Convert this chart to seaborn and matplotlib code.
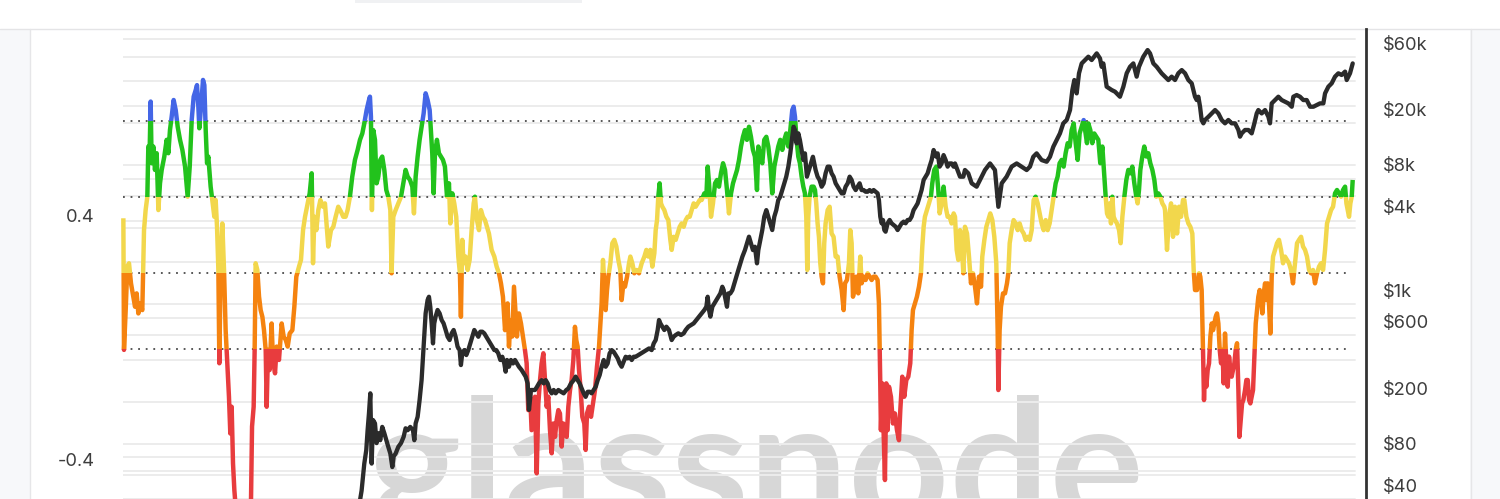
import matplotlib.pyplot as plt
import seaborn as sns
from matplotlib.patches import Rectangle
from matplotlib.lines import Line2D

sns.set_theme(style="white")
plt.rcParams["font.family"] = ["Inter", "DejaVu Sans"]

# indicator (left axis), time in decimal years
nupl_year = [
    2010.504, 2010.511, 2010.530, 2010.548, 2010.567, 2010.589, 2010.615, 2010.634, 2010.652, 2010.671,
    2010.689, 2010.715, 2010.734, 2010.752, 2010.771, 2010.782, 2010.797, 2010.808, 2010.819, 2010.838,
    2010.856, 2010.875, 2010.894, 2010.912, 2010.931, 2010.960, 2010.986, 2011.005, 2011.023, 2011.042,
    2011.064, 2011.087, 2011.109, 2011.135, 2011.161, 2011.191, 2011.220, 2011.243, 2011.265, 2011.287,
    2011.310, 2011.324, 2011.339, 2011.350, 2011.369, 2011.391, 2011.406, 2011.421, 2011.436, 2011.450,
    2011.476, 2011.499, 2011.517, 2011.532, 2011.547, 2011.562, 2011.573, 2011.588, 2011.606, 2011.625,
    2011.643, 2011.662, 2011.680, 2011.695, 2011.710, 2011.725, 2011.740, 2011.755, 2011.840, 2011.925,
    2011.937, 2011.955, 2011.966, 2011.977, 2011.996, 2012.015, 2012.033, 2012.052, 2012.070, 2012.089,
    2012.100, 2012.115, 2012.133, 2012.155, 2012.170, 2012.193, 2012.211, 2012.237, 2012.267, 2012.289,
    2012.312, 2012.334, 2012.356, 2012.386, 2012.408, 2012.430, 2012.460, 2012.482, 2012.505, 2012.527,
    2012.557, 2012.579, 2012.601, 2012.616, 2012.631, 2012.653, 2012.675, 2012.698, 2012.727,
    2012.749, 2012.786, 2012.816, 2012.842, 2012.868, 2012.897, 2012.927, 2012.953, 2012.979, 2013.001,
    2013.027, 2013.053, 2013.083, 2013.113, 2013.139, 2013.165, 2013.187, 2013.213, 2013.235, 2013.250,
    2013.261, 2013.272, 2013.287, 2013.306, 2013.324, 2013.343, 2013.365, 2013.387, 2013.410, 2013.432,
    2013.454, 2013.477, 2013.491, 2013.510, 2013.536, 2013.566, 2013.596, 2013.621, 2013.647, 2013.670,
    2013.696, 2013.722, 2013.740, 2013.759, 2013.781, 2013.803, 2013.825, 2013.848, 2013.870, 2013.892,
    2013.915, 2013.929, 2013.944, 2013.959, 2013.974, 2013.996, 2014.018, 2014.041, 2014.063, 2014.085,
    2014.108, 2014.130, 2014.145, 2014.167, 2014.189, 2014.211, 2014.234, 2014.252, 2014.263, 2014.278,
    2014.293, 2014.315, 2014.338, 2014.360, 2014.382, 2014.405, 2014.419, 2014.442, 2014.464, 2014.486,
    2014.508, 2014.531, 2014.553, 2014.575, 2014.605, 2014.635, 2014.661, 2014.687, 2014.709, 2014.731,
    2014.754, 2014.772, 2014.783, 2014.798, 2014.817, 2014.835, 2014.854, 2014.872, 2014.887, 2014.909,
    2014.932, 2014.954, 2014.976, 2014.995, 2015.013, 2015.032, 2015.050,
    2015.088, 2015.107, 2015.125, 2015.144, 2015.162, 2015.181, 2015.199, 2015.218, 2015.236, 2015.255,
    2015.274, 2015.292, 2015.311, 2015.329, 2015.348, 2015.366, 2015.385, 2015.403, 2015.422, 2015.441,
    2015.459, 2015.478, 2015.496, 2015.515, 2015.533, 2015.548, 2015.563, 2015.578, 2015.597, 2015.615,
    2015.637, 2015.652, 2015.667, 2015.689, 2015.712, 2015.734, 2015.756, 2015.778, 2015.801, 2015.816,
    2015.830, 2015.845, 2015.860, 2015.875, 2015.890, 2015.905, 2015.927, 2015.949, 2015.971, 2015.994,
    2016.016, 2016.038, 2016.053, 2016.072, 2016.090, 2016.113, 2016.135, 2016.150, 2016.172, 2016.194,
    2016.220, 2016.246, 2016.276, 2016.306, 2016.328, 2016.350, 2016.372, 2016.395, 2016.417, 2016.432,
    2016.447, 2016.461, 2016.476, 2016.491, 2016.506, 2016.528, 2016.551, 2016.573, 2016.595, 2016.610,
    2016.632, 2016.655, 2016.677, 2016.699, 2016.721, 2016.744, 2016.766, 2016.788, 2016.811, 2016.833,
    2016.855, 2016.877, 2016.900, 2016.922, 2016.944, 2016.974, 2016.996, 2017.011, 2017.026, 2017.048,
    2017.070, 2017.093, 2017.115, 2017.137, 2017.159, 2017.182, 2017.204, 2017.226, 2017.248, 2017.271,
    2017.293, 2017.315, 2017.338, 2017.360, 2017.382, 2017.404,
    2017.426, 2017.448, 2017.471, 2017.493, 2017.515, 2017.537, 2017.560, 2017.575, 2017.597, 2017.619,
    2017.641, 2017.664, 2017.686, 2017.708, 2017.730, 2017.753, 2017.775, 2017.797, 2017.819, 2017.842,
    2017.864, 2017.886, 2017.909, 2017.931, 2017.953, 2017.968, 2017.983, 2018.001, 2018.020, 2018.038,
    2018.057, 2018.076, 2018.094, 2018.109, 2018.120, 2018.131, 2018.146, 2018.168, 2018.191, 2018.206,
    2018.220, 2018.235, 2018.250, 2018.265, 2018.280, 2018.295, 2018.309, 2018.324, 2018.347, 2018.369,
    2018.391, 2018.413, 2018.436, 2018.458, 2018.480, 2018.503, 2018.525, 2018.540, 2018.562, 2018.584,
    2018.599, 2018.614, 2018.629, 2018.644, 2018.666, 2018.688, 2018.710, 2018.725, 2018.748, 2018.770,
    2018.792, 2018.814, 2018.837, 2018.859, 2018.881, 2018.903, 2018.918, 2018.926, 2018.933, 2018.940,
    2018.955, 2018.970, 2018.985, 2019.000, 2019.015, 2019.030, 2019.052, 2019.074, 2019.096, 2019.119,
    2019.141, 2019.156, 2019.178, 2019.200, 2019.223, 2019.245, 2019.267, 2019.282, 2019.297, 2019.319,
    2019.341, 2019.364, 2019.386, 2019.401, 2019.416, 2019.430, 2019.453, 2019.475, 2019.497, 2019.512,
    2019.534, 2019.557, 2019.579, 2019.594, 2019.616, 2019.638, 2019.661, 2019.683, 2019.705, 2019.727,
    2019.750,
    2019.765, 2019.784, 2019.802, 2019.821, 2019.839, 2019.858, 2019.876, 2019.899, 2019.921, 2019.943,
    2019.965, 2019.988, 2020.010, 2020.032, 2020.055, 2020.069, 2020.092, 2020.114, 2020.136, 2020.158,
    2020.181, 2020.203, 2020.225, 2020.240, 2020.248, 2020.262, 2020.277, 2020.300, 2020.322, 2020.344,
    2020.359, 2020.374, 2020.396, 2020.418, 2020.441, 2020.463, 2020.485, 2020.507, 2020.530, 2020.552,
    2020.574, 2020.597, 2020.619, 2020.641, 2020.663, 2020.686, 2020.708, 2020.730, 2020.752, 2020.775,
    2020.797, 2020.819, 2020.841, 2020.864, 2020.886, 2020.908, 2020.930, 2020.953, 2020.975, 2020.997,
    2021.020, 2021.042, 2021.064, 2021.087, 2021.109, 2021.131, 2021.153, 2021.176, 2021.198, 2021.220,
    2021.235, 2021.250, 2021.272, 2021.294, 2021.316, 2021.339, 2021.361, 2021.383, 2021.406, 2021.428,
    2021.443, 2021.458, 2021.473, 2021.488, 2021.502, 2021.517, 2021.532, 2021.547, 2021.569, 2021.592,
    2021.610, 2021.629, 2021.651, 2021.673, 2021.695, 2021.718, 2021.740, 2021.762, 2021.784, 2021.799,
    2021.814, 2021.829, 2021.851, 2021.873, 2021.896, 2021.918, 2021.940, 2021.963, 2021.985, 2022.007,
    2022.029, 2022.052, 2022.074, 2022.096,
    2022.104, 2022.126, 2022.149, 2022.171, 2022.193, 2022.215, 2022.238, 2022.260, 2022.282, 2022.304,
    2022.319, 2022.342, 2022.364, 2022.386, 2022.408, 2022.423, 2022.438, 2022.460, 2022.483, 2022.497,
    2022.512, 2022.527, 2022.538, 2022.549, 2022.564, 2022.579, 2022.594, 2022.609, 2022.624, 2022.639,
    2022.653, 2022.668, 2022.683, 2022.698, 2022.713, 2022.728, 2022.743, 2022.757, 2022.772, 2022.787,
    2022.802, 2022.817, 2022.832, 2022.846, 2022.861, 2022.876, 2022.891, 2022.906, 2022.921, 2022.932,
    2022.947, 2022.962, 2022.976, 2022.995, 2023.010, 2023.025, 2023.040, 2023.054, 2023.069, 2023.084,
    2023.099, 2023.114, 2023.129, 2023.143, 2023.158, 2023.173, 2023.188, 2023.203, 2023.218, 2023.232,
    2023.247, 2023.262, 2023.277, 2023.292, 2023.307, 2023.329, 2023.351, 2023.373, 2023.396, 2023.418,
    2023.440, 2023.463, 2023.485, 2023.507, 2023.529, 2023.552, 2023.574, 2023.596, 2023.619, 2023.641,
    2023.663, 2023.685, 2023.708, 2023.730, 2023.752, 2023.774, 2023.797, 2023.819, 2023.841, 2023.864,
    2023.886, 2023.908, 2023.930, 2023.953, 2023.975, 2023.997, 2024.019, 2024.042, 2024.064, 2024.086,
    2024.109, 2024.124, 2024.138, 2024.153, 2024.168, 2024.183, 2024.194,
]
nupl_value = [
    0.431, -0.002, 0.129, 0.272, 0.283, 0.217, 0.173, 0.140, 0.184, 0.118,
    0.151, 0.129, 0.392, 0.458, 0.502, 0.667, 0.656, 0.815, 0.612, 0.667,
    0.590, 0.645, 0.458, 0.546, 0.590, 0.634, 0.689, 0.645, 0.721, 0.765,
    0.820, 0.787, 0.732, 0.689, 0.656, 0.601, 0.502, 0.601, 0.754, 0.831,
    0.853, 0.869, 0.798, 0.727, 0.798, 0.886, 0.869, 0.721, 0.612, 0.634,
    0.535, 0.480, 0.436, 0.491, 0.403, 0.261, -0.046, 0.283, 0.414, 0.261,
    0.063, -0.046, -0.156, -0.277, -0.189, -0.375, -0.463, -0.520, -0.600, -0.507,
    -0.254, -0.189, -0.002, 0.283, 0.261, 0.173, 0.129, 0.107, 0.063, -0.002,
    -0.189, -0.002, -0.068, 0.085, -0.035, -0.079, 0.009, -0.035, 0.085, 0.042,
    0.031, 0.009, 0.052, 0.063, 0.140, 0.239, 0.272, 0.294, 0.392, 0.436,
    0.480, 0.513, 0.579, 0.283, 0.436, 0.392, 0.458, 0.491, 0.469,
    0.480, 0.338, 0.392, 0.403, 0.436, 0.469, 0.453, 0.436, 0.436, 0.458,
    0.502, 0.568, 0.623, 0.656, 0.689, 0.710, 0.743, 0.787, 0.815, 0.831,
    0.765, 0.458, 0.721, 0.689, 0.546, 0.568, 0.623, 0.634, 0.590, 0.524,
    0.502, 0.458, 0.250, 0.436, 0.458, 0.480, 0.502, 0.546, 0.590, 0.568,
    0.557, 0.535, 0.447, 0.568, 0.634, 0.689, 0.732, 0.776, 0.842, 0.820,
    0.787, 0.721, 0.645, 0.513, 0.645, 0.689, 0.645, 0.634, 0.623, 0.601,
    0.502, 0.546, 0.414, 0.513, 0.480, 0.436, 0.305, 0.250, 0.107, 0.360,
    0.283, 0.305, 0.261, 0.294, 0.392, 0.480, 0.502, 0.425, 0.392, 0.458,
    0.436, 0.425, 0.403, 0.381, 0.327, 0.305, 0.272, 0.250, 0.217, 0.173,
    0.063, 0.107, 0.151, 0.009, 0.096, 0.042, 0.206, 0.118, 0.042, 0.118,
    0.085, 0.042, -0.002, -0.046, -0.200, -0.134, -0.266,
    -0.156, -0.408, -0.178, -0.101, -0.046, -0.013, -0.101, -0.189, -0.156, -0.266,
    -0.342, -0.244, -0.288, -0.233, -0.200, -0.211, -0.320, -0.244, -0.266, -0.288,
    -0.189, -0.134, -0.101, -0.035, 0.074, 0.030, 0.009, -0.068, -0.134, -0.222,
    -0.244, -0.331, -0.211, -0.189, -0.222, -0.178, -0.134, -0.057, 0.009, 0.085,
    0.151, 0.294, 0.217, 0.129, 0.195, 0.239, 0.283, 0.349, 0.360, 0.338,
    0.294, 0.261, 0.162, 0.217, 0.206, 0.239, 0.283, 0.305, 0.283, 0.250,
    0.261, 0.250, 0.283, 0.305, 0.327, 0.305, 0.327, 0.272, 0.316, 0.392,
    0.425, 0.502, 0.546, 0.480, 0.469, 0.458, 0.436, 0.425, 0.360, 0.327,
    0.370, 0.360, 0.381, 0.403, 0.414, 0.403, 0.425, 0.436, 0.436, 0.458,
    0.480, 0.469, 0.480, 0.491, 0.491, 0.513, 0.502, 0.601, 0.546, 0.436,
    0.480, 0.546, 0.557, 0.535, 0.579, 0.612, 0.590, 0.524, 0.447, 0.513,
    0.546, 0.568, 0.590, 0.623, 0.667, 0.699,
    0.721, 0.689, 0.732, 0.699, 0.656, 0.634, 0.524, 0.667, 0.634, 0.612,
    0.689, 0.699, 0.667, 0.612, 0.513, 0.601, 0.634, 0.667, 0.689, 0.656,
    0.689, 0.710, 0.667, 0.721, 0.787, 0.798, 0.765, 0.689, 0.634, 0.612,
    0.568, 0.535, 0.513, 0.436, 0.261, 0.436, 0.502, 0.535, 0.535, 0.524,
    0.480, 0.414, 0.370, 0.283, 0.239, 0.217, 0.349, 0.414, 0.458, 0.469,
    0.381, 0.370, 0.305, 0.305, 0.239, 0.195, 0.129, 0.217, 0.228, 0.283,
    0.392, 0.349, 0.173, 0.195, 0.239, 0.184, 0.305, 0.217, 0.239, 0.228,
    0.250, 0.239, 0.228, 0.239, 0.239, 0.228, 0.151, 0.009, -0.112, -0.266,
    -0.112, -0.266, -0.430, -0.112, -0.266, -0.123, -0.156, -0.244, -0.211, -0.266,
    -0.299, -0.200, -0.090, -0.156, -0.101, -0.090, -0.046, 0.063, 0.129, 0.151,
    0.173, 0.206, 0.250, 0.338, 0.403, 0.436, 0.458, 0.480, 0.502, 0.546,
    0.590, 0.601, 0.524, 0.447, 0.480, 0.535, 0.469, 0.436, 0.436, 0.414,
    0.447,
    0.436, 0.327, 0.294, 0.392, 0.349, 0.250, 0.403, 0.381, 0.305, 0.217,
    0.250, 0.206, 0.151, 0.239, 0.206, 0.305, 0.360, 0.403, 0.425, 0.447,
    0.425, 0.370, 0.283, 0.063, -0.134, 0.063, 0.140, 0.184, 0.184, 0.217,
    0.250, 0.349, 0.392, 0.425, 0.414, 0.392, 0.414, 0.392, 0.381, 0.360,
    0.370, 0.360, 0.392, 0.491, 0.502, 0.480, 0.447, 0.414, 0.392, 0.425,
    0.392, 0.414, 0.458, 0.502, 0.546, 0.568, 0.612, 0.623, 0.601, 0.645,
    0.678, 0.667, 0.721, 0.743, 0.678, 0.623, 0.710, 0.732, 0.754, 0.710,
    0.678, 0.743, 0.721, 0.678, 0.710, 0.699, 0.689, 0.612, 0.667, 0.568,
    0.502, 0.447, 0.436, 0.480, 0.414, 0.502, 0.436, 0.425, 0.414, 0.392,
    0.349, 0.436, 0.502, 0.557, 0.590, 0.579, 0.601, 0.546, 0.502, 0.480,
    0.524, 0.590, 0.634, 0.667, 0.634, 0.645, 0.612, 0.590, 0.557, 0.502,
    0.513, 0.502, 0.480, 0.469,
    0.458, 0.327, 0.436, 0.480, 0.370, 0.469, 0.381, 0.469, 0.436, 0.491,
    0.491, 0.436, 0.414, 0.403, 0.381, 0.261, 0.195, 0.195, 0.250, 0.239,
    0.195, -0.002, -0.167, -0.068, -0.123, -0.068, -0.046, 0.042, 0.085, 0.063,
    0.085, 0.107, 0.118, 0.085, -0.002, -0.046, -0.002, -0.112, 0.052, -0.046,
    -0.123, -0.024, -0.068, -0.090, -0.068, -0.046, -0.002, 0.020, -0.134, -0.288,
    -0.233, -0.178, -0.167, -0.134, -0.101, -0.101, -0.167, -0.178, -0.156, -0.134,
    -0.024, 0.085, 0.129, 0.173, 0.195, 0.173, 0.118, 0.184, 0.217, 0.162,
    0.217, 0.151, 0.052, 0.239, 0.305, 0.327, 0.349, 0.360, 0.327, 0.283,
    0.305, 0.294, 0.283, 0.261, 0.217, 0.283, 0.349, 0.360, 0.370, 0.338,
    0.327, 0.305, 0.261, 0.250, 0.261, 0.217, 0.250, 0.272, 0.283, 0.261,
    0.327, 0.414, 0.436, 0.458, 0.469, 0.513, 0.524, 0.513, 0.502, 0.524,
    0.535, 0.480, 0.458, 0.436, 0.480, 0.502, 0.557,
]

# price (right axis, log)
price_year = [
    2013.120, 2013.157, 2013.187, 2013.209, 2013.224, 2013.239, 2013.254, 2013.269, 2013.284, 2013.306,
    2013.324, 2013.343, 2013.365, 2013.387, 2013.410, 2013.432, 2013.454, 2013.477, 2013.499, 2013.514,
    2013.536, 2013.566, 2013.596, 2013.625, 2013.647, 2013.670, 2013.699, 2013.729, 2013.744, 2013.759,
    2013.781, 2013.803, 2013.825, 2013.848, 2013.870, 2013.892, 2013.907, 2013.922, 2013.937, 2013.952,
    2013.966, 2013.981, 2014.003, 2014.026, 2014.048, 2014.070, 2014.093, 2014.115, 2014.137, 2014.160,
    2014.182, 2014.204, 2014.226, 2014.249, 2014.263, 2014.278, 2014.301, 2014.323, 2014.345, 2014.367,
    2014.390, 2014.412, 2014.434, 2014.457, 2014.479, 2014.501, 2014.523, 2014.546, 2014.568, 2014.590,
    2014.612, 2014.635, 2014.657, 2014.679, 2014.702, 2014.724, 2014.746, 2014.761, 2014.776, 2014.798,
    2014.820, 2014.843, 2014.865, 2014.887, 2014.909, 2014.939, 2014.961, 2014.984, 2015.006, 2015.021,
    2015.043, 2015.066,
    2015.088, 2015.110, 2015.132, 2015.162, 2015.185, 2015.207, 2015.229, 2015.251, 2015.274, 2015.296,
    2015.318, 2015.348, 2015.378, 2015.407, 2015.437, 2015.459, 2015.489, 2015.519, 2015.541, 2015.563,
    2015.585, 2015.608, 2015.630, 2015.652, 2015.675, 2015.697, 2015.719, 2015.741, 2015.764, 2015.786,
    2015.808, 2015.830, 2015.853, 2015.875, 2015.897, 2015.919, 2015.942, 2015.964, 2015.986, 2016.009,
    2016.031, 2016.053, 2016.075, 2016.098, 2016.120, 2016.142, 2016.165, 2016.187, 2016.209, 2016.239,
    2016.268, 2016.298, 2016.328, 2016.358, 2016.387, 2016.410, 2016.432, 2016.454, 2016.469, 2016.484,
    2016.506, 2016.528, 2016.551, 2016.580, 2016.610, 2016.632, 2016.655, 2016.684, 2016.714, 2016.744,
    2016.766, 2016.796, 2016.826, 2016.855, 2016.885, 2016.915, 2016.944, 2016.974, 2016.996, 2017.011,
    2017.026, 2017.041, 2017.063, 2017.085, 2017.107, 2017.130, 2017.152, 2017.174, 2017.189, 2017.204,
    2017.226, 2017.241, 2017.263, 2017.286, 2017.308, 2017.330, 2017.352, 2017.375, 2017.397,
    2017.426, 2017.448, 2017.471, 2017.493, 2017.515, 2017.537, 2017.560, 2017.575, 2017.597, 2017.619,
    2017.641, 2017.664, 2017.686, 2017.708, 2017.730, 2017.753, 2017.775, 2017.797, 2017.819, 2017.842,
    2017.864, 2017.886, 2017.909, 2017.931, 2017.953, 2017.968, 2017.983, 2018.001, 2018.020, 2018.038,
    2018.057, 2018.076, 2018.094, 2018.116, 2018.139, 2018.161, 2018.183, 2018.198, 2018.213, 2018.235,
    2018.257, 2018.280, 2018.302, 2018.324, 2018.347, 2018.369, 2018.391, 2018.413, 2018.436, 2018.458,
    2018.480, 2018.503, 2018.525, 2018.547, 2018.570, 2018.592, 2018.614, 2018.636, 2018.659, 2018.681,
    2018.703, 2018.725, 2018.748, 2018.770, 2018.792, 2018.814, 2018.837, 2018.859, 2018.881, 2018.903,
    2018.918, 2018.933, 2018.948, 2018.963, 2018.978, 2018.992, 2019.015, 2019.037, 2019.059, 2019.081,
    2019.104, 2019.126, 2019.148, 2019.171, 2019.193, 2019.215, 2019.237, 2019.260, 2019.282, 2019.304,
    2019.327, 2019.349, 2019.371, 2019.393, 2019.416, 2019.438, 2019.460, 2019.482, 2019.505, 2019.527,
    2019.542, 2019.557, 2019.572, 2019.594, 2019.616, 2019.638, 2019.661, 2019.683, 2019.705, 2019.727,
    2019.750,
    2019.765, 2019.821, 2019.858, 2019.876, 2019.913, 2019.951, 2020.006, 2020.043, 2020.099, 2020.155,
    2020.210, 2020.248, 2020.285, 2020.340, 2020.396, 2020.452, 2020.507, 2020.563, 2020.600, 2020.637,
    2020.674, 2020.730, 2020.786, 2020.823, 2020.860, 2020.897, 2020.934, 2020.971, 2021.009, 2021.046,
    2021.072, 2021.094, 2021.120, 2021.146, 2021.176, 2021.213, 2021.250, 2021.287, 2021.343, 2021.380,
    2021.398, 2021.417, 2021.454, 2021.510, 2021.547, 2021.602, 2021.640, 2021.677, 2021.714, 2021.751,
    2021.788, 2021.814, 2021.862, 2021.910, 2021.937, 2021.974, 2022.011, 2022.066,
    2022.104, 2022.141, 2022.178, 2022.215, 2022.252, 2022.290, 2022.327, 2022.364, 2022.401, 2022.438,
    2022.457, 2022.475, 2022.494, 2022.512, 2022.531, 2022.549, 2022.587, 2022.624, 2022.661, 2022.698,
    2022.735, 2022.772, 2022.809, 2022.846, 2022.884, 2022.921, 2022.939, 2022.958, 2022.995, 2023.032,
    2023.069, 2023.099, 2023.125, 2023.143, 2023.180, 2023.218, 2023.255, 2023.273, 2023.292, 2023.329,
    2023.366, 2023.403, 2023.440, 2023.477, 2023.515, 2023.533, 2023.570, 2023.607, 2023.644, 2023.682,
    2023.719, 2023.756, 2023.793, 2023.830, 2023.867, 2023.886, 2023.923, 2023.960, 2023.997, 2024.034,
    2024.071, 2024.109, 2024.127, 2024.146, 2024.164, 2024.194,
]
price_usd = [
    33, 46, 72, 90, 125, 165, 230, 72, 148, 140,
    101, 119, 106, 132, 119, 106, 95, 85, 68, 81,
    85, 95, 101, 112, 129, 125, 132, 125, 106, 140,
    156, 206, 286, 497, 862, 1075, 1135, 962, 731, 525,
    731, 817, 912, 862, 773, 731, 655, 586, 555, 620,
    655, 586, 497, 470, 367, 445, 470, 433, 470, 525,
    586, 655, 620, 586, 637, 637, 620, 586, 555, 525,
    497, 470, 470, 445, 399, 421, 377, 329, 399, 357,
    399, 377, 399, 377, 357, 338, 320, 303, 271, 175,
    243, 243,
    243, 256, 271, 286, 271, 286, 271, 243, 230, 243,
    230, 243, 236, 230, 243, 249, 271, 286, 303, 286,
    271, 249, 230, 217, 236, 236, 230, 243, 256, 286,
    311, 357, 399, 357, 377, 445, 470, 457, 433, 410,
    377, 357, 388, 421, 410, 421, 399, 421, 421, 433,
    445, 457, 470, 483, 470, 525, 555, 655, 773, 731,
    692, 655, 692, 655, 555, 586, 603, 620, 603, 620,
    655, 692, 711, 731, 773, 817, 862, 912, 962, 1135,
    912, 817, 962, 1016, 1075, 1135, 1199, 1339, 1267, 1135,
    962, 1199, 1199, 1267, 1416, 1581, 1763, 1972, 2198,
    2455, 2742, 3063, 2742, 2455, 2594, 1972, 2455, 2897, 3420,
    4266, 4753, 4266, 3821, 3420, 4266, 4753, 5610, 5930, 6620,
    7400, 8260, 9750, 12140, 16000, 18880, 17870, 14320, 16900, 15140,
    12830, 10870, 12140, 8260, 9220, 10280, 11480, 10280, 9220, 8260,
    7820, 7000, 7400, 8730, 9750, 9750, 8730, 8260, 7400, 7000,
    6620, 6270, 6270, 7000, 7400, 8260, 7820, 7000, 6620, 7000,
    7400, 6620, 6620, 6440, 6440, 6620, 6440, 6620, 6440, 6270,
    5610, 4266, 3821, 4036, 3420, 3327, 3821, 4036, 3821, 3715,
    3614, 3420, 3614, 3821, 3927, 3821, 4036, 4036, 4266, 4753,
    5020, 5310, 5930, 6620, 7820, 8260, 8730, 9750, 10870, 12830,
    12140, 11480, 12140, 9750, 10280, 11800, 10870, 9750, 10280, 10280,
    9750,
    10280, 8260, 8260, 9220, 8730, 7400, 7000, 7820, 9220, 10280,
    9220, 5020, 7400, 8260, 9750, 10280, 9750, 9220, 9750, 11480,
    12140, 10870, 10570, 11480, 13550, 15140, 16900, 19950, 21080, 24850,
    34590, 40800, 32730, 45600, 53700, 56800, 60000, 56800, 63400, 58300,
    50800, 53700, 36560, 34590, 33650, 30970, 36560, 45600, 50800, 53700,
    43150, 50800, 60000, 66990, 63400, 53700, 50800, 45600,
    43150, 40800, 43150, 40800, 45600, 48100, 45600, 40800, 38640, 30970,
    29310, 30970, 26250, 21080, 19950, 21080, 22230, 23500, 24850, 23500,
    21080, 19950, 21080, 19950, 19950, 17870, 16000, 16900, 17870, 17870,
    16900, 19950, 23500, 24850, 23500, 24850, 22230, 19950, 27740, 29310,
    30970, 29310, 28510, 27740, 26250, 30970, 31840, 30970, 29310, 29310,
    26250, 26250, 26990, 27740, 27740, 32730, 36560, 38640, 43150, 45600,
    44360, 46880, 40800, 43150, 45600, 53700,
]

# colour bands of the indicator
band_low = [0.75, 0.5, 0.25, 0.0, -5.0]
band_high = [5.0, 0.75, 0.5, 0.25, 0.0]
band_color = ["#4466e6", "#22c21c", "#f2d74c", "#f5830f", "#e83c3e"]
threshold_levels = [0.75, 0.5, 0.25, 0.0]

# axis ticks / labels
left_grid = [0.8, 0.4, -0.4]
left_labels = [0.4, -0.4]
price_grid = [80000, 60000, 40000, 20000, 10000, 8000, 6000, 4000, 2000, 1000,
              800, 600, 400, 200, 100, 80, 60, 40]
price_label_vals = [60000, 20000, 8000, 4000, 1000, 600, 200, 80, 40]
price_label_text = ["$60k", "$20k", "$8k", "$4k", "$1k", "$600", "$200", "$80", "$40"]

W, H = 1500, 499
fig = plt.figure(figsize=(15, 4.99), dpi=100, facecolor="#f7f8fa")


def fig_rect(x0, y0, x1, y1, **kw):
    # page chrome, given in pixels from the top-left corner
    fig.add_artist(Rectangle((x0 / W, 1 - y1 / H), (x1 - x0) / W, (y1 - y0) / H,
                             transform=fig.transFigure, **kw))


fig_rect(30, 29, 1470, H + 2, facecolor="white", edgecolor="none", zorder=-3)
fig_rect(0, 0, W, 28.5, facecolor="white", edgecolor="none", zorder=-3)
fig_rect(355, -4, 582, 3, facecolor="#f0f1f3", edgecolor="none", zorder=-2)
fig.add_artist(Line2D([0, 1], [1 - 28.5 / H] * 2, color="#e4e4e6", lw=1, zorder=-2))
fig.add_artist(Line2D([29.5 / W] * 2, [0, 1 - 28.5 / H], color="#e6e6e8", lw=1, zorder=-2))
fig.add_artist(Line2D([1470.5 / W] * 2, [0, 1 - 28.5 / H], color="#e6e6e8", lw=1, zorder=-2))

# watermark
fig.text(368 / W, 1 - 526 / H, "glassnode", fontsize=127, color="#d7d7d7",
         family=["Lato", "DejaVu Sans"], fontweight="bold",
         ha="left", va="baseline", zorder=-1)

rect = [123 / W, 0, (1366 - 123) / W, (H - 29) / H]
ax = fig.add_axes(rect)
ax_grid = ax.twinx()
ax2 = ax.twinx()
ax_grid.set_zorder(0)
ax.set_zorder(1)
ax2.set_zorder(2)

x_lo, x_hi = 2010.5, 2024.342
for a in (ax, ax_grid, ax2):
    a.patch.set_visible(False)
    a.set_xlim(x_lo, x_hi)
    for s in a.spines.values():
        s.set_visible(False)
ax.set_ylim(-0.4924, 1.0536)
for a in (ax_grid, ax2):
    a.set_yscale("log")
    a.set_ylim(40.1, 94850)
for a in (ax, ax_grid, ax2):
    a.set_xticks([])
    a.set_yticks([])
    a.set_yticks([], minor=True)
    a.tick_params(which="both", left=False, right=False, bottom=False,
                  labelleft=False, labelright=False, labelbottom=False)

grid_end = 0.991
for p in price_grid:
    ax_grid.axhline(p, xmax=grid_end, color="#ececec", lw=1.4)
for v in left_grid:
    ax.axhline(v, xmax=grid_end, color="#ececec", lw=1.4, zorder=0.5)
for v in threshold_levels:
    ax.axhline(v, xmax=0.987, color="#4a4a4a", lw=1.3, ls=(0, (1, 3.2)), zorder=1)

# indicator, cut into colour bands
for lo, hi, c in zip(band_low, band_high, band_color):
    sns.lineplot(x=nupl_year, y=nupl_value, ax=ax, color=c, lw=3.2,
                 sort=False, estimator=None, zorder=2)
    clip = Rectangle((x_lo - 1, lo), x_hi - x_lo + 2, hi - lo, transform=ax.transData)
    ax.lines[-1].set_clip_path(clip)
    ax.lines[-1].set_solid_capstyle("butt")

# price
sns.lineplot(x=price_year, y=price_usd, ax=ax2, color="#2b2b2b", lw=3.1,
             sort=False, estimator=None)

ax2.spines["right"].set_visible(True)
ax2.spines["right"].set_color("#333333")
ax2.spines["right"].set_linewidth(2.0)

for p, lab in zip(price_label_vals, price_label_text):
    ax2.annotate(lab, xy=(1, p), xycoords=ax2.get_yaxis_transform(),
                 xytext=(12.2, 8.4), textcoords="offset points",
                 ha="left", va="center", fontsize=13.2, color="#3d3d3d")
for v in left_labels:
    ax.annotate(f"{v:.1f}", xy=(0, v), xycoords=ax.get_yaxis_transform(),
                xytext=(-20.2, 7.0), textcoords="offset points",
                ha="right", va="center", fontsize=13.2, color="#3d3d3d")

fig.savefig("out.png", dpi=100, facecolor=fig.get_facecolor())
